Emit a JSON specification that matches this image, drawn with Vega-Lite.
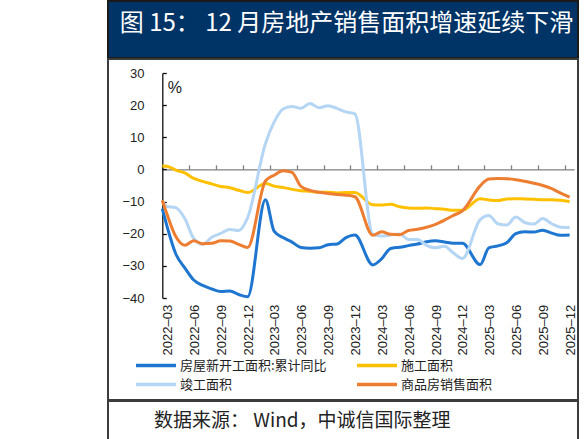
{
  "$schema": "https://vega.github.io/schema/vega-lite/v6.json",
  "padding": {"left": 107, "top": 0, "right": 0, "bottom": 0},
  "background": "white",
  "spacing": -2,
  "config": {
    "view": {"stroke": "#3c3c3c", "strokeWidth": 2, "fill": "white"},
    "concat": {"spacing": -2}
  },
  "vconcat": [
    {
      "width": 470,
      "height": 57,
      "view": {"fill": "#003366", "stroke": "#1a1a1a", "strokeWidth": 2},
      "data": {"values": [{"title": "图 15：  12 月房地产销售面积增速延续下滑"}]},
      "mark": {"type": "text", "color": "white", "font": "Noto Sans CJK SC", "fontSize": 24, "align": "center", "baseline": "middle", "dy": -6, "dx": 3.5},
      "encoding": {"text": {"field": "title", "type": "nominal"}}
    },
    {
      "width": 470,
      "height": 341,
      "view": {"fill": "white", "stroke": "#3c3c3c", "strokeWidth": 2},
      "data": {
        "values": [
          {"month": "2022-02", "房屋新开工面积:累计同比": -12.2, "施工面积": 1.1, "竣工面积": -9.8, "商品房销售面积": -9.6},
          {"month": "2022-03", "房屋新开工面积:累计同比": -17.5, "施工面积": 1.0, "竣工面积": -11.5, "商品房销售面积": -13.8},
          {"month": "2022-04", "房屋新开工面积:累计同比": -26.3, "施工面积": -0.2, "竣工面积": -11.9, "商品房销售面积": -20.9},
          {"month": "2022-05", "房屋新开工面积:累计同比": -30.6, "施工面积": -1.1, "竣工面积": -15.3, "商品房销售面积": -23.6},
          {"month": "2022-06", "房屋新开工面积:累计同比": -34.4, "施工面积": -2.8, "竣工面积": -21.5, "商品房销售面积": -22.2},
          {"month": "2022-07", "房屋新开工面积:累计同比": -36.1, "施工面积": -3.7, "竣工面积": -23.3, "商品房销售面积": -23.1},
          {"month": "2022-08", "房屋新开工面积:累计同比": -37.2, "施工面积": -4.5, "竣工面积": -21.1, "商品房销售面积": -23.0},
          {"month": "2022-09", "房屋新开工面积:累计同比": -38.0, "施工面积": -5.3, "竣工面积": -19.9, "商品房销售面积": -22.2},
          {"month": "2022-10", "房屋新开工面积:累计同比": -37.8, "施工面积": -5.7, "竣工面积": -18.7, "商品房销售面积": -22.3},
          {"month": "2022-11", "房屋新开工面积:累计同比": -38.9, "施工面积": -6.5, "竣工面积": -19.0, "商品房销售面积": -23.3},
          {"month": "2022-12", "房屋新开工面积:累计同比": -39.6, "施工面积": -7.2, "竣工面积": -15.0, "商品房销售面积": -24.3},
          {"month": "2023-02", "房屋新开工面积:累计同比": -9.4, "施工面积": -4.4, "竣工面积": 8.0, "商品房销售面积": -3.6},
          {"month": "2023-03", "房屋新开工面积:累计同比": -19.2, "施工面积": -5.2, "竣工面积": 14.7, "商品房销售面积": -1.8},
          {"month": "2023-04", "房屋新开工面积:累计同比": -21.2, "施工面积": -5.6, "竣工面积": 18.8, "商品房销售面积": -0.4},
          {"month": "2023-05", "房屋新开工面积:累计同比": -22.6, "施工面积": -6.2, "竣工面积": 19.6, "商品房销售面积": -0.9},
          {"month": "2023-06", "房屋新开工面积:累计同比": -24.3, "施工面积": -6.6, "竣工面积": 19.0, "商品房销售面积": -5.3},
          {"month": "2023-07", "房屋新开工面积:累计同比": -24.5, "施工面积": -6.8, "竣工面积": 20.5, "商品房销售面积": -6.5},
          {"month": "2023-08", "房屋新开工面积:累计同比": -24.4, "施工面积": -7.1, "竣工面积": 19.2, "商品房销售面积": -7.1},
          {"month": "2023-09", "房屋新开工面积:累计同比": -23.4, "施工面积": -7.1, "竣工面积": 19.8, "商品房销售面积": -7.5},
          {"month": "2023-10", "房屋新开工面积:累计同比": -23.2, "施工面积": -7.3, "竣工面积": 19.0, "商品房销售面积": -7.8},
          {"month": "2023-11", "房屋新开工面积:累计同比": -21.2, "施工面积": -7.2, "竣工面积": 17.9, "商品房销售面积": -8.0},
          {"month": "2023-12", "房屋新开工面积:累计同比": -20.4, "施工面积": -7.2, "竣工面积": 17.3, "商品房销售面积": -8.5},
          {"month": "2024-02", "房屋新开工面积:累计同比": -29.7, "施工面积": -11.0, "竣工面积": -20.2, "商品房销售面积": -20.5},
          {"month": "2024-03", "房屋新开工面积:累计同比": -27.8, "施工面积": -11.1, "竣工面积": -20.7, "商品房销售面积": -19.4},
          {"month": "2024-04", "房屋新开工面积:累计同比": -24.6, "施工面积": -10.8, "竣工面积": -20.4, "商品房销售面积": -20.2},
          {"month": "2024-05", "房屋新开工面积:累计同比": -24.2, "施工面积": -11.6, "竣工面积": -20.1, "商品房销售面积": -20.3},
          {"month": "2024-06", "房屋新开工面积:累计同比": -23.7, "施工面积": -12.0, "竣工面积": -21.8, "商品房销售面积": -19.0},
          {"month": "2024-07", "房屋新开工面积:累计同比": -23.2, "施工面积": -12.1, "竣工面积": -21.8, "商品房销售面积": -18.6},
          {"month": "2024-08", "房屋新开工面积:累计同比": -22.5, "施工面积": -12.0, "竣工面积": -23.6, "商品房销售面积": -18.0},
          {"month": "2024-09", "房屋新开工面积:累计同比": -22.2, "施工面积": -12.2, "竣工面积": -24.4, "商品房销售面积": -17.1},
          {"month": "2024-10", "房屋新开工面积:累计同比": -22.6, "施工面积": -12.4, "竣工面积": -23.9, "商品房销售面积": -15.8},
          {"month": "2024-11", "房屋新开工面积:累计同比": -23.0, "施工面积": -12.7, "竣工面积": -26.0, "商品房销售面积": -14.3},
          {"month": "2024-12", "房屋新开工面积:累计同比": -23.0, "施工面积": -12.7, "竣工面积": -27.7, "商品房销售面积": -12.9},
          {"month": "2025-02", "房屋新开工面积:累计同比": -29.6, "施工面积": -9.1, "竣工面积": -15.6, "商品房销售面积": -5.1},
          {"month": "2025-03", "房屋新开工面积:累计同比": -24.4, "施工面积": -9.5, "竣工面积": -14.3, "商品房销售面积": -3.0},
          {"month": "2025-04", "房屋新开工面积:累计同比": -23.8, "施工面积": -9.7, "竣工面积": -16.9, "商品房销售面积": -2.8},
          {"month": "2025-05", "房屋新开工面积:累计同比": -22.8, "施工面积": -9.2, "竣工面积": -17.3, "商品房销售面积": -2.9},
          {"month": "2025-06", "房屋新开工面积:累计同比": -20.0, "施工面积": -9.1, "竣工面积": -14.8, "商品房销售面积": -3.2},
          {"month": "2025-07", "房屋新开工面积:累计同比": -19.4, "施工面积": -9.2, "竣工面积": -16.5, "商品房销售面积": -3.7},
          {"month": "2025-08", "房屋新开工面积:累计同比": -19.5, "施工面积": -9.3, "竣工面积": -17.0, "商品房销售面积": -4.3},
          {"month": "2025-09", "房屋新开工面积:累计同比": -18.9, "施工面积": -9.4, "竣工面积": -15.3, "商品房销售面积": -5.0},
          {"month": "2025-10", "房屋新开工面积:累计同比": -19.8, "施工面积": -9.4, "竣工面积": -16.9, "商品房销售面积": -6.0},
          {"month": "2025-11", "房屋新开工面积:累计同比": -20.5, "施工面积": -9.6, "竣工面积": -18.0, "商品房销售面积": -7.4},
          {"month": "2025-12", "房屋新开工面积:累计同比": -20.4, "施工面积": -10.0, "竣工面积": -18.1, "商品房销售面积": -8.6}
        ]
      },
      "transform": [
        {"fold": ["房屋新开工面积:累计同比", "施工面积", "竣工面积", "商品房销售面积"], "as": ["series", "value"]}
      ],
      "mark": {"type": "line", "strokeWidth": 3, "interpolate": "monotone"},
      "encoding": {
        "x": {
          "field": "month",
          "type": "temporal",
          "timeUnit": "utcyearmonth",
          "bandPosition": 0.5,
          "scale": {
            "type": "utc",
            "domain": [
              {"year": 2022, "month": 3, "date": 1, "utc": true},
              {"year": 2026, "month": 1, "date": 1, "utc": true}
            ],
            "range": [54.3, 466.2],
            "clamp": true
          },
          "axis": {
            "title": null,
            "orient": "bottom",
            "offset": -230.6,
            "values": [
              {"year": 2022, "month": 3, "date": 1, "utc": true},
              {"year": 2022, "month": 6, "date": 1, "utc": true},
              {"year": 2022, "month": 9, "date": 1, "utc": true},
              {"year": 2022, "month": 12, "date": 1, "utc": true},
              {"year": 2023, "month": 3, "date": 1, "utc": true},
              {"year": 2023, "month": 6, "date": 1, "utc": true},
              {"year": 2023, "month": 9, "date": 1, "utc": true},
              {"year": 2023, "month": 12, "date": 1, "utc": true},
              {"year": 2024, "month": 3, "date": 1, "utc": true},
              {"year": 2024, "month": 6, "date": 1, "utc": true},
              {"year": 2024, "month": 9, "date": 1, "utc": true},
              {"year": 2024, "month": 12, "date": 1, "utc": true},
              {"year": 2025, "month": 3, "date": 1, "utc": true},
              {"year": 2025, "month": 6, "date": 1, "utc": true},
              {"year": 2025, "month": 9, "date": 1, "utc": true},
              {"year": 2025, "month": 12, "date": 1, "utc": true}
            ],
            "format": "%Y–%m",
            "labelAngle": -90,
            "labelOffset": 5,
            "labelPadding": 139.4,
            "tickSize": -4.5,
            "tickColor": "#808080",
            "tickWidth": 1.3,
            "domainColor": "#808080",
            "domainWidth": 1.3,
            "labelFont": "Liberation Sans",
            "labelFontSize": 13,
            "labelColor": "#222222",
            "labelOverlap": false,
            "labelBound": false,
            "labelFlush": false,
            "grid": false
          }
        },
        "y": {
          "field": "value",
          "type": "quantitative",
          "scale": {"domain": [-40, 30], "range": [239, 14], "nice": false, "zero": false},
          "axis": {
            "title": "%",
            "titleAngle": 0,
            "titleFont": "Liberation Sans",
            "titleFontSize": 16,
            "titleFontWeight": "normal",
            "titleColor": "#222222",
            "titleAlign": "left",
            "titleBaseline": "alphabetic",
            "titleX": 5,
            "titleY": 33,
            "offset": -54.3,
            "values": [-40, -30, -20, -10, 0, 10, 20, 30],
            "tickSize": -4,
            "tickColor": "#111111",
            "tickWidth": 1.3,
            "domainColor": "#111111",
            "domainWidth": 1.3,
            "labelPadding": 22.3,
            "labelFont": "Liberation Sans",
            "labelFontSize": 13,
            "labelColor": "#222222",
            "grid": false
          }
        },
        "color": {
          "field": "series",
          "type": "nominal",
          "scale": {
            "domain": ["房屋新开工面积:累计同比", "施工面积", "竣工面积", "商品房销售面积"],
            "range": ["#1E76D0", "#FFC000", "#B5D5F5", "#ED7D31"]
          },
          "legend": {
            "title": null,
            "orient": "none",
            "direction": "horizontal",
            "legendX": 26,
            "legendY": 357.5,
            "columns": 2,
            "symbolType": "stroke",
            "symbolSize": 1600,
            "symbolStrokeWidth": 3.5,
            "clipHeight": 14,
            "labelFont": "Noto Sans CJK SC",
            "labelFontSize": 13,
            "labelColor": "#222222",
            "labelOffset": 2,
            "labelLimit": 400,
            "columnPadding": 28,
            "rowPadding": 5,
            "padding": 0
          }
        }
      }
    },
    {
      "width": 470,
      "height": 39,
      "view": {"fill": "white", "stroke": "#3c3c3c", "strokeWidth": 2},
      "data": {"values": [{"source": "数据来源：   Wind，中诚信国际整理"}]},
      "mark": {"type": "text", "font": "Noto Sans CJK SC", "fontSize": 19, "align": "left", "baseline": "middle", "dx": -189, "color": "#222222"},
      "encoding": {"text": {"field": "source", "type": "nominal"}}
    }
  ]
}
